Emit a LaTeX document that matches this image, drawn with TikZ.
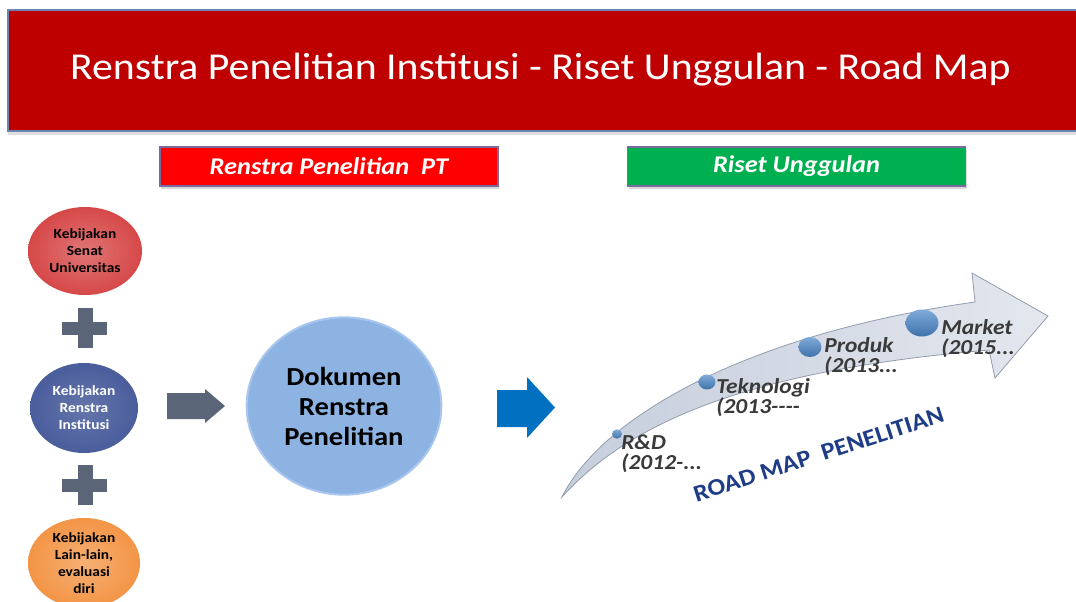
\documentclass[tikz,border=0pt]{standalone}
\usepackage{fontspec}
\setmainfont{Carlito}[FakeStretch=1.1]
\usetikzlibrary{shapes.geometric,shadows}
\definecolor{titlered}{HTML}{BE0000}
\definecolor{titleedge}{HTML}{6A84B4}
\definecolor{ptred}{HTML}{FF0000}
\definecolor{rugreen}{HTML}{00B050}
\definecolor{tabedge}{HTML}{7B6AA0}
\definecolor{senatred}{HTML}{D64848}
\definecolor{renstrablue}{HTML}{4A5D9C}
\definecolor{lainorange}{HTML}{F39546}
\definecolor{plusgray}{HTML}{5A6578}
\definecolor{dokblue}{HTML}{8DB3E3}
\definecolor{dokedge}{HTML}{A9C6EE}
\definecolor{arrowblue}{HTML}{0070C0}
\definecolor{roadleft}{HTML}{C6CEDC}
\definecolor{roadright}{HTML}{E3E7EE}
\definecolor{roadedge}{HTML}{939DAE}
\definecolor{dotblue}{HTML}{4A86C8}
\definecolor{stagegray}{HTML}{3A3A3A}
\definecolor{roadnavy}{HTML}{1F3C86}

\begin{document}
\begin{tikzpicture}[x=0.75pt,y=-0.75pt,
	oval/.style={ellipse,inner sep=0pt,align=center,font=\fontsize{10.5}{12.75}\selectfont\bfseries},
	tab/.style={draw=tabedge,line width=0.8pt,minimum width=253.5pt,minimum height=29.25pt,text=white,
		font=\fontsize{18}{20}\selectfont\bfseries\itshape,drop shadow={opacity=0.3,shadow xshift=1pt,shadow yshift=-2pt}},
	dot/.style={ellipse,inner sep=0pt,top color=dotblue!70!white,bottom color=dotblue!85!black},
	stage/.style={anchor=west,inner sep=0pt,align=left,text=stagegray,font=\fontsize{16}{15}\selectfont\bfseries\itshape}]

	\fill[white] (0,0) rectangle (1076,601);
	\useasboundingbox (0,0) rectangle (1076,601);

	% title and tabs
	\node [fill=titlered,draw=titleedge,line width=0.8pt,minimum width=804pt,minimum height=90.75pt,inner sep=0pt,
		drop shadow={opacity=0.25,shadow xshift=0pt,shadow yshift=-3pt}] (title) at (544,70.5) {};
	\node [text=white,font=\fontsize{28.5}{30}\selectfont] (titletext) at (540.5,70) {Renstra Penelitian Institusi - Riset Unggulan - Road Map};
	\node [tab,fill=ptred] (pt) at (329,166.5) {Renstra Penelitian\ \ PT};
	\node [tab,fill=rugreen] (ru) at (796.5,166.5) {Riset Unggulan};

	% left column
	\node [oval,minimum width=85.5pt,minimum height=66pt,inner color=senatred!75!white,outer color=senatred]
		(senat) at (85,251) {Kebijakan\\Senat\\Universitas};
	\node [oval,minimum width=81pt,minimum height=67.5pt,inner color=renstrablue!85!white,outer color=renstrablue,text=white]
		(renstra) at (84,408) {Kebijakan\\Renstra\\Institusi};
	\node [oval,minimum width=84pt,minimum height=67.5pt,inner color=lainorange!75!white,outer color=lainorange]
		(lain) at (84,563) {Kebijakan\\Lain-lain,\\evaluasi\\diri};
	\foreach \y in {328,485} {
		\fill[plusgray] (62,\y-6.5) rectangle (107,\y+6.5);
		\fill[plusgray] (77.5,\y-20) rectangle (92.5,\y+20);
	}

	% middle
	\node [ellipse,minimum width=146pt,minimum height=133pt,inner sep=0pt,fill=dokblue,draw=dokedge,line width=1.5pt,
		align=center,font=\fontsize{19.5}{22.5}\selectfont\bfseries] (dok) at (344,406) {Dokumen\\Renstra\\Penelitian};
	\fill[plusgray] (167,393) -- (205,393) -- (205,389) -- (225,406) -- (205,423) -- (205,419) -- (167,419) -- cycle;
	\fill[arrowblue] (497,390) -- (527,390) -- (527,377) -- (555,407.5) -- (527,438) -- (527,427) -- (497,427) -- cycle;

	% road map
	\shade[left color=roadleft,right color=roadright,draw=roadedge,line width=0.6pt]
		(562,497) .. controls (600,420) and (740,335) .. (975,302) -- (972,273) -- (1048,316) -- (995,378)
		-- (989,350) .. controls (780,368) and (640,410) .. (562,497) -- cycle;
	\node [dot,minimum width=7.5pt,minimum height=7pt] (rd) at (617,434) {};
	\node [dot,minimum width=12.75pt,minimum height=11.25pt] (tek) at (707,382) {};
	\node [dot,minimum width=17.25pt,minimum height=15pt] (prod) at (810,347) {};
	\node [dot,minimum width=24.75pt,minimum height=20.25pt] (mkt) at (922,323) {};
	\node [stage] (rdtext) at (621,454) {R\&D\\(2012-...};
	\node [stage] (tektext) at (716,398) {Teknologi\\(2013-{}-{}-{}-};
	\node [stage] (prodtext) at (824,357) {Produk\\(2013...};
	\node [stage] (mkttext) at (941,339) {Market\\(2015...};
	\node [anchor=base,rotate=18,text=roadnavy,font=\fontsize{17.8}{20}\selectfont\bfseries] (road) at (821,462) {ROAD MAP\ \ PENELITIAN};
\end{tikzpicture}
\end{document}
